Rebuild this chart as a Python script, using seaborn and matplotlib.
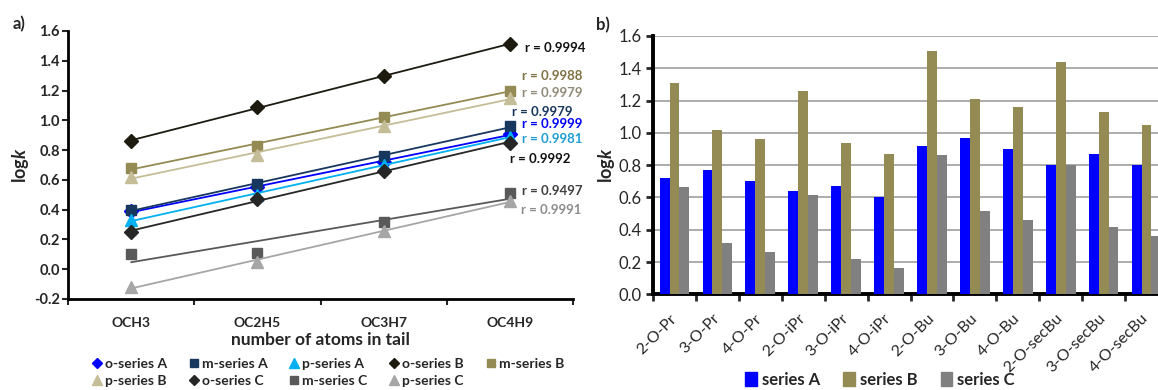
import matplotlib
matplotlib.use("Agg")
import matplotlib.pyplot as plt
from matplotlib.lines import Line2D
from matplotlib.patches import Patch
import numpy as np
import pandas as pd
import seaborn as sns

# ── Data: panel a) ───────────────────────────────────────────────────────────
tails = ["OCH3", "OC2H5", "OC3H7", "OC4H9"]
o_series_a = [0.39, 0.55, 0.72, 0.91]
m_series_a = [0.40, 0.57, 0.76, 0.96]
p_series_a = [0.33, 0.50, 0.70, 0.89]
o_series_b = [0.86, 1.09, 1.30, 1.51]
m_series_b = [0.68, 0.83, 1.02, 1.20]
p_series_b = [0.62, 0.77, 0.96, 1.15]
o_series_c = [0.25, 0.47, 0.66, 0.85]
m_series_c = [0.105, 0.11, 0.315, 0.51]
p_series_c = [-0.12, 0.05, 0.26, 0.455]
r_labels = ["r = 0.9994", "r = 0.9988", "r = 0.9979", "r = 0.9979", "r = 0.9999",
            "r = 0.9981", "r = 0.9992", "r = 0.9497", "r = 0.9991"]

# ── Data: panel b) ───────────────────────────────────────────────────────────
compounds = ["2-O-Pr", "3-O-Pr", "4-O-Pr", "2-O-iPr", "3-O-iPr", "4-O-iPr",
             "2-O-Bu", "3-O-Bu", "4-O-Bu", "2-O-secBu", "3-O-secBu", "4-O-secBu"]
series_a = [0.72, 0.77, 0.70, 0.64, 0.67, 0.60, 0.92, 0.97, 0.90, 0.80, 0.87, 0.80]
series_b = [1.31, 1.02, 0.96, 1.26, 0.94, 0.87, 1.51, 1.21, 1.16, 1.44, 1.13, 1.05]
series_c = [0.665, 0.32, 0.265, 0.615, 0.22, 0.165, 0.86, 0.515, 0.46, 0.80, 0.415, 0.36]

# ── Styling ──────────────────────────────────────────────────────────────────
sns.set_style("ticks")
plt.rcParams["font.family"] = ["Lato", "DejaVu Sans"]
plt.rcParams["mathtext.fontset"] = "custom"
plt.rcParams["mathtext.it"] = "Lato:italic:bold"
plt.rcParams["mathtext.rm"] = "Lato:bold"

fig = plt.figure(figsize=(11.58, 3.9), dpi=100)
ax1 = fig.add_axes([68 / 1158, 1 - 299 / 390, 505 / 1158, 268 / 390])
ax2 = fig.add_axes([653 / 1158, 1 - 294.3 / 390, 515 / 1158, 258.3 / 390])

# ── a) line panel with linear trendlines ─────────────────────────────────────
x = np.arange(len(tails))
series = [
    ("o-series A", o_series_a, "#0000ff", "D", 7),
    ("m-series A", m_series_a, "#17375e", "s", 7),
    ("p-series A", p_series_a, "#00b0f0", "^", 8),
    ("o-series B", o_series_b, "#1d1b10", "D", 7),
    ("m-series B", m_series_b, "#948a54", "s", 7),
    ("p-series B", p_series_b, "#c4bd97", "^", 8),
    ("o-series C", o_series_c, "#262626", "D", 7),
    ("m-series C", m_series_c, "#595959", "s", 7),
    ("p-series C", p_series_c, "#a6a6a6", "^", 8),
]
for name, vals, col, mk, ms in series:
    sns.regplot(x=x, y=vals, ax=ax1, ci=None, scatter=False, truncate=True,
                line_kws=dict(color=col, lw=1.3))
    ax1.plot(x, vals, ls="none", marker=mk, ms=ms, color=col, mec=col)

# r annotations (x, y in data units, colour)
r_pos = [(3.12, 1.484, "#111111"), (3.10, 1.296, "#7f7245"), (3.10, 1.183, "#8f8a78"),
         (3.02, 1.054, "#17375e"), (3.10, 0.973, "#0000ff"), (3.10, 0.872, "#1f9ed1"),
         (3.00, 0.738, "#111111"), (3.10, 0.526, "#404040"), (3.09, 0.398, "#8c8c8c")]
for lab, (tx, ty, tc) in zip(r_labels, r_pos):
    ax1.text(tx, ty, lab, color=tc, fontsize=9.5, fontweight="bold",
             ha="left", va="center", clip_on=False)

ax1.set_xlim(-0.5, 3.5)
ax1.set_ylim(-0.2, 1.6)
ax1.set_yticks(np.arange(-0.2, 1.61, 0.2))
ax1.set_yticklabels([f"{v:.1f}" for v in np.arange(-0.2, 1.61, 0.2)],
                    fontsize=10.5, fontweight="bold")
ax1.set_xticks(x)
ax1.set_xticklabels(tails, fontsize=10, fontweight="bold")
ax1.set_xticks(np.arange(-0.5, 3.6, 1.0), minor=True)
ax1.tick_params(axis="x", which="major", length=0, pad=13)
ax1.tick_params(axis="x", which="minor", length=4, width=1.5, direction="out")
ax1.tick_params(axis="y", length=4, width=1.5, direction="out", pad=2)
ax1.set_xlabel("number of atoms in tail", fontsize=12.5, fontweight="bold", labelpad=2)
ax1.set_ylabel("log$k$", fontsize=13, fontweight="bold", labelpad=2)
for side in ["top", "right"]:
    ax1.spines[side].set_visible(False)
for side in ["left", "bottom"]:
    ax1.spines[side].set_linewidth(2)
    ax1.spines[side].set_color("black")

handles1 = [Line2D([], [], ls="none", marker=mk, ms=ms - 1.5, color=col, label=name)
            for name, vals, col, mk, ms in series]
order = [0, 5, 1, 6, 2, 7, 3, 8, 4]
fig.legend([handles1[i] for i in order], [handles1[i].get_label() for i in order],
           loc="center", bbox_to_anchor=(327 / 1158, 1 - 372.5 / 390), ncol=5,
           frameon=False, prop=dict(size=10, weight="bold"),
           handletextpad=0.1, columnspacing=1.4, labelspacing=0.35,
           handlelength=1.0, borderpad=0)

# ── b) grouped bar panel ─────────────────────────────────────────────────────
bars = pd.DataFrame({
    "compound": compounds * 3,
    "logk": series_a + series_b + series_c,
    "series": ["series A"] * 12 + ["series B"] * 12 + ["series C"] * 12,
})
bar_colors = {"series A": "#0000ff", "series B": "#948a54", "series C": "#808080"}
sns.barplot(data=bars, x="compound", y="logk", hue="series", palette=bar_colors,
            width=0.69, gap=0, ax=ax2, legend=False, saturation=1, linewidth=0,
            errorbar=None, zorder=3)

ax2.set_xlim(-0.5, 11.5)
ax2.set_ylim(0, 1.6)
yt = np.arange(0, 1.61, 0.2)
ax2.set_yticks(yt)
ax2.set_yticklabels([f"{v:.1f}" for v in yt], fontsize=12)
ax2.yaxis.grid(True, color="#a6a6a6", lw=1.3, zorder=0)
ax2.set_axisbelow(True)
ax2.set_xticks(np.arange(12))
ax2.set_xticklabels(compounds, fontsize=11.5, rotation=45, ha="right",
                    va="center", rotation_mode="anchor")
ax2.set_xticks(np.arange(-0.5, 12, 1.0), minor=True)
ax2.tick_params(axis="x", which="major", length=0, pad=16)
ax2.tick_params(axis="x", which="minor", length=5, width=2, direction="out")
ax2.tick_params(axis="y", length=5, width=2, direction="out", pad=3)
ax2.set_xlabel("")
ax2.set_ylabel("log$k$", fontsize=13, fontweight="bold", labelpad=1)
for side in ["top", "right"]:
    ax2.spines[side].set_visible(False)
for side in ["left", "bottom"]:
    ax2.spines[side].set_linewidth(2.8)
    ax2.spines[side].set_color("black")

handles2 = [Patch(color=c, label=k) for k, c in bar_colors.items()]
fig.legend(handles=handles2, loc="center", bbox_to_anchor=(880 / 1158, 1 - 380 / 390),
           ncol=3, frameon=False, prop=dict(size=12, weight="bold"),
           handlelength=0.7, handleheight=0.9, handletextpad=0.3,
           columnspacing=1.4, borderpad=0)

# panel letters
fig.text(13 / 1158, 1 - 24 / 390, "a)", fontsize=12, fontweight="bold", va="center")
fig.text(596 / 1158, 1 - 25 / 390, "b)", fontsize=12, fontweight="bold", va="center")

fig.savefig("out.png", dpi=100)
